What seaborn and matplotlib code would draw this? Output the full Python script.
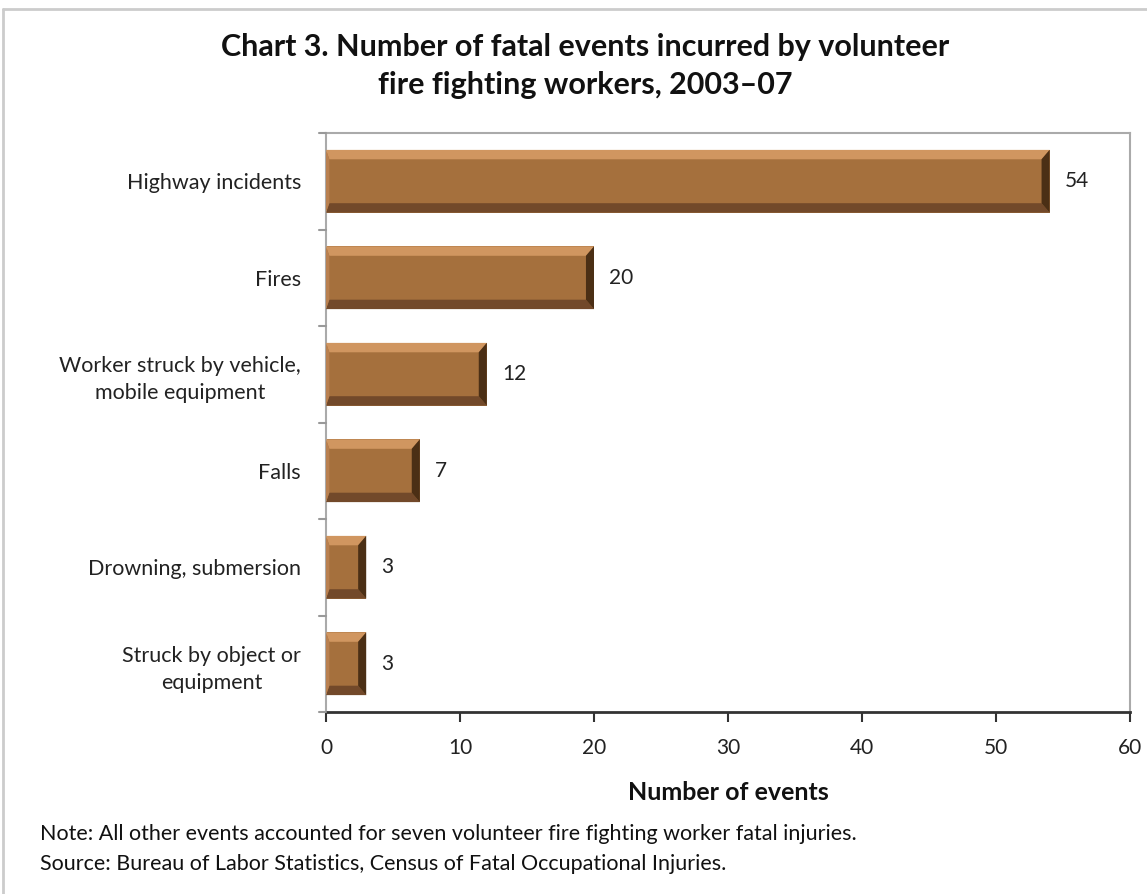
import matplotlib
matplotlib.use("Agg")
import matplotlib.pyplot as plt
import seaborn as sns
import pandas as pd
from matplotlib.patches import Polygon
from matplotlib.lines import Line2D

categories = ["Highway incidents", "Fires", "Worker struck by vehicle,\nmobile equipment",
              "Falls", "Drowning, submersion", "Struck by object or\nequipment"]
values = [54, 20, 12, 7, 3, 3]
xticks = [0, 10, 20, 30, 40, 50, 60]

title = "Chart 3. Number of fatal events incurred by volunteer\nfire fighting workers, 2003\u201307"
xlabel = "Number of events"
note1 = "Note: All other events accounted for seven volunteer fire fighting worker fatal injuries."
note2 = "Source: Bureau of Labor Statistics, Census of Fatal Occupational Injuries."

sns.set_theme(style="white")
plt.rcParams['font.family'] = ['Lato', 'DejaVu Sans']

df = pd.DataFrame({"category": categories, "value": values})

W, H = 1147, 894
fig = plt.figure(figsize=(W / 100, H / 100), dpi=100)
ax = fig.add_axes([326 / W, 1 - 712 / H, (1130 - 326) / W, (712 - 133) / H])

base = "#A5703D"
sns.barplot(data=df, x="value", y="category", orient="h", color=base,
            width=0.65, saturation=1, ax=ax, edgecolor="none")

# bevel effect from bar geometry
for p in list(ax.patches):
    x0, y0 = p.get_x(), p.get_y()
    w, h = p.get_width(), p.get_height()
    x1, y1 = x0 + w, y0 + h
    bx = 0.6
    by = h * 0.15
    bl = 0.25
    top = Polygon([[x0, y0], [x1, y0], [x1 - bx, y0 + by], [x0 + bl, y0 + by]],
                  closed=True, facecolor="#D09660", edgecolor="none", zorder=3)
    bottom = Polygon([[x0, y1], [x1, y1], [x1 - bx, y1 - by], [x0 + bl, y1 - by]],
                     closed=True, facecolor="#72492A", edgecolor="none", zorder=3)
    right = Polygon([[x1, y0], [x1, y1], [x1 - bx, y1 - by], [x1 - bx, y0 + by]],
                    closed=True, facecolor="#4B2F15", edgecolor="none", zorder=3)
    left = Polygon([[x0, y0], [x0, y1], [x0 + bl, y1 - by], [x0 + bl, y0 + by]],
                   closed=True, facecolor="#B98050", edgecolor="none", zorder=3)
    for poly in (top, bottom, right, left):
        ax.add_patch(poly)

for i, v in enumerate(values):
    ax.annotate(str(v), xy=(v, i), xytext=(11, 0), textcoords="offset points",
                va="center", ha="left", fontsize=15, color="#222222")

ax.set_xlim(0, 60)
ax.set_ylim(5.5, -0.5)
ax.set_xticks(xticks)
ax.set_xticklabels([str(t) for t in xticks], fontsize=15, color="#222222")
ax.set_yticks(range(len(categories)))
ax.set_yticklabels(categories, fontsize=15.5, color="#222222", ha="right",
                   multialignment="center", linespacing=1.45)
ax.tick_params(axis="y", length=0, pad=18)
ax.tick_params(axis="x", length=7, width=1.5, color="#333333", direction="out", pad=12,
               bottom=True)
for b in [i - 0.5 for i in range(len(categories) + 1)]:
    ax.plot([-0.55, 0], [b, b], color="#999999", lw=1.5, clip_on=False, zorder=5)

ax.set_xlabel(xlabel, fontsize=18, fontweight="bold", color="#111111", labelpad=16)
ax.set_ylabel("")

for s in ["top", "right", "left"]:
    ax.spines[s].set_visible(True)
    ax.spines[s].set_color("#AAAAAA")
    ax.spines[s].set_linewidth(1.5)
ax.spines["bottom"].set_color("#333333")
ax.spines["bottom"].set_linewidth(2)

fig.text(585 / W, 1 - 66 / H, title, ha="center", va="center", fontsize=22,
         fontweight="bold", color="#111111", linespacing=1.4)
fig.text(40 / W, 1 - 834 / H, note1, ha="left", va="center", fontsize=15.5, color="#111111")
fig.text(40 / W, 1 - 864 / H, note2, ha="left", va="center", fontsize=15.5, color="#111111")

fig.add_artist(Line2D([3 / W, 1], [1 - 9 / H, 1 - 9 / H], transform=fig.transFigure,
                      color="#CCCCCC", lw=2))
fig.add_artist(Line2D([3 / W, 3 / W], [0, 1 - 9 / H], transform=fig.transFigure,
                      color="#CCCCCC", lw=2))

fig.savefig("out.png", dpi=100)
